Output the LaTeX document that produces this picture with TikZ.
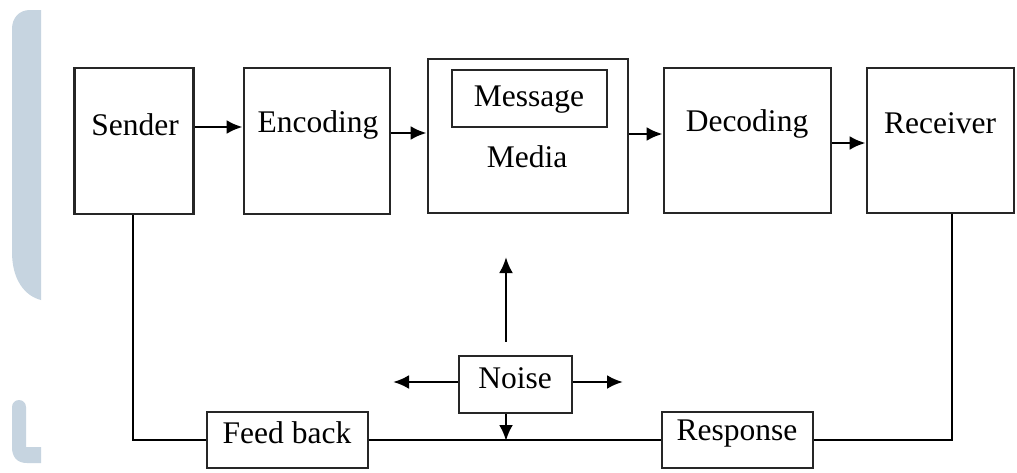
\documentclass[tikz,border=0pt]{standalone}
\usepackage{fontspec}
\setmainfont{Liberation Serif}
\usetikzlibrary{arrows.meta}
\definecolor{wmblue}{HTML}{C6D4E0}
\begin{document}
\begin{tikzpicture}[x=1pt,y=-1pt,
  box/.style={draw=black!85,line width=2.8pt,inner sep=0pt},
  lbl/.style={font=\fontsize{31.5}{36}\selectfont,inner sep=0pt},
  arr/.style={line width=2.8pt,-{Latex[length=16pt,width=14pt]}},
  conn/.style={line width=2.8pt}]
\useasboundingbox (0,0) rectangle (1017,472);
\fill[white] (0,0) rectangle (1017,472);
% watermark shapes
\fill[wmblue] (41,10) -- (30,10) .. controls (19,10) and (12,18) .. (12,29) -- (12,252) .. controls (12,280) and (25,296) .. (41,300) -- cycle;
\fill[wmblue] (26,447) -- (26,407) arc[start angle=0,end angle=-180,radius=7] -- (12,447) .. controls (12,457) and (17,463) .. (27,463) -- (41,463) -- (41,447) -- cycle;
% boxes
\node[box,minimum width=119pt,minimum height=146pt] (sender) at (134,141) {};
\node[box,minimum width=146pt,minimum height=146pt] (encoding) at (317,141) {};
\node[box,minimum width=200pt,minimum height=154pt] (media) at (528,136) {};
\node[box,minimum width=155pt,minimum height=57pt] (message) at (529.5,98.5) {};
\node[box,minimum width=167pt,minimum height=145pt] (decoding) at (747.5,140.5) {};
\node[box,minimum width=147pt,minimum height=145pt] (receiver) at (940.5,140.5) {};
\node[box,minimum width=113pt,minimum height=57pt] (noise) at (515.5,384.5) {};
\node[box,minimum width=161pt,minimum height=56pt] (feedback) at (287.5,440) {};
\node[box,minimum width=151pt,minimum height=56pt] (response) at (737.5,440) {};
% texts
\node[lbl] (senderT) at (135,125) {Sender};
\node[lbl] (encodingT) at (318,125) {Encoding};
\node[lbl] (messageT) at (529,100) {Message};
\node[lbl] (mediaT) at (527,157) {Media};
\node[lbl] (decodingT) at (747,124) {Decoding};
\node[lbl] (receiverT) at (940,123) {Receiver};
\node[lbl] (noiseT) at (515,378) {Noise};
\node[lbl] (feedbackT) at (287,433) {Feed back};
\node[lbl] (responseT) at (737,434) {Response};
% free-end coordinates
\coordinate (upTip) at (506,257);
\coordinate (leftTip) at (393,382);
\coordinate (rightTip) at (623,382);
\coordinate (downTip) at (506,441);
% forward arrows
\draw[arr] ([yshift=14pt]sender.east) -- ([yshift=14pt]encoding.west);
\draw[arr] ([yshift=8pt]encoding.east) -- ([yshift=3pt]media.west);
\draw[arr] ([yshift=2pt]media.east) -- ([yshift=6.5pt]decoding.west);
\draw[arr] ([yshift=-2.5pt]decoding.east) -- ([yshift=-2.5pt]receiver.west);
% feedback loop
\draw[conn] ([xshift=-1pt]sender.south) |- (feedback.west);
\draw[conn] (feedback.east) -- (response.west);
\draw[conn] (response.east) -| ([xshift=11.5pt]receiver.south);
% noise arrows
\draw[arr] ([xshift=-9.5pt,yshift=13pt]noise.north) -- (upTip);
\draw[arr] ([yshift=2.5pt]noise.west) -- (leftTip);
\draw[arr] ([yshift=2.5pt]noise.east) -- (rightTip);
\draw[arr] ([xshift=-9.5pt]noise.south) -- (downTip);
\end{tikzpicture}
\end{document}
